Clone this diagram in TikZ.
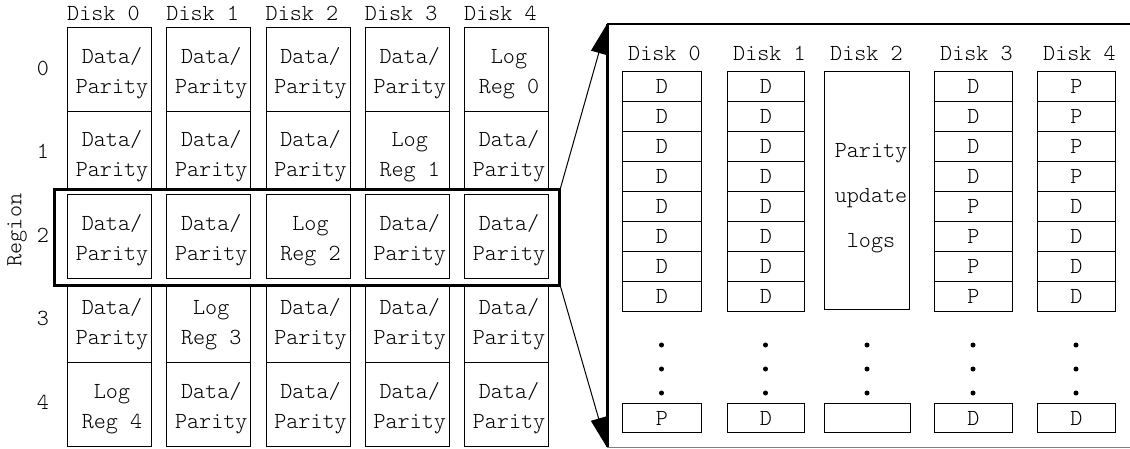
\documentclass[tikz,border=0pt]{standalone}
\usepackage{fontspec}
\newfontfamily\cour{Latin Modern Mono Light}
\usetikzlibrary{arrows.meta}
\begin{document}
\begin{tikzpicture}[x=1pt,y=-1pt,
  txt/.style={font=\cour\fontsize{23}{23}\selectfont, inner sep=0pt},
  cell/.style={draw, line width=1pt, inner sep=0pt, minimum width=84pt, anchor=north west},
  rcell/.style={draw, line width=1pt, inner sep=0pt, minimum height=30pt, anchor=north west, font=\cour\fontsize{23}{23}\selectfont},
  hlbox/.style={draw, line width=2.5pt, inner sep=0pt, anchor=north west},
  zoomarrow/.style={line width=1pt, -{Triangle[length=30pt,width=16pt]}},
  dot/.style={fill=black}]
\useasboundingbox (0,0) rectangle (1130,448);

% left grid
\foreach \r/\t/\h in {0/27/84,1/111/77,2/194/84,3/284/78,4/362/84} {
  \pgfmathtruncatemacro\lc{4-\r}
  \pgfmathsetmacro\yb{63+83.75*\r}
  \foreach \c in {0,...,4} {
    \pgfmathsetmacro\xl{67+99.25*\c}
    \node[cell, minimum height=\h pt] (L\r\c) at (\xl,\t) {};
    \ifnum\c=\lc
      \node[txt, anchor=base] (Ta\r\c) at (\xl+45,\yb) {Log};
      \node[txt, anchor=base] (Tb\r\c) at (\xl+45,\yb+30) {Reg \r};
    \else
      \node[txt, anchor=base] (Ta\r\c) at (\xl+45,\yb) {Data/};
      \node[txt, anchor=base] (Tb\r\c) at (\xl+45,\yb+30) {Parity};
    \fi
  }
  \node[txt, anchor=base] (RL\r) at (43,75+83.5*\r) {\r};
}
\foreach \c in {0,...,4} {
  \pgfmathsetmacro\xl{67+99.25*\c}
  \node[txt, anchor=base west] (LH\c) at (\xl,20) {Disk \c};
}
\node[txt, rotate=90] (region) at (17,230) {Region};

% highlight box
\node[hlbox, minimum width=505pt, minimum height=96pt] (hl) at (53,188) {};

% right panel
\node[inner sep=0pt, minimum width=540pt, minimum height=423pt, anchor=north west] (panel) at (607,24) {};
\draw[line width=2pt] (panel.north west) -- (panel.north east);
\draw[line width=1pt, gray] (panel.south west) -- (panel.south east);
\draw[line width=3pt] (panel.north west) -- (panel.south west);

\draw[zoomarrow] (hl.north east) -- (panel.north west);
\draw[zoomarrow] (hl.south east) -- (panel.south west);

% right columns
\foreach \n/\xl/\w/\lst/\last in {0/622/79/{D,D,D,D,D,D,D,D}/P, 1/727/77/{D,D,D,D,D,D,D,D}/D, 3/934/78/{D,D,D,D,P,P,P,P}/D, 4/1037/78/{P,P,P,P,D,D,D,D}/D} {
  \node[txt, anchor=base west] (RH\n) at (\xl+6,60) {Disk \n};
  \foreach \s [count=\k from 0] in \lst {
    \node[rcell, minimum width=\w pt] (R\n\k) at (\xl,71+30*\k) {\s};
  }
  \node[rcell, minimum width=\w pt, minimum height=29pt] (RB\n) at (\xl,403) {\last};
  \foreach \yy [count=\j] in {345,369,393} {
    \fill[dot] (\xl+\w/2,\yy) circle (2.5pt);
  }
}
\node[txt, anchor=base west] (RH2) at (830,60) {Disk 2};
\node[rcell, minimum width=85pt, minimum height=238pt] (Rbig) at (824,71) {};
\node[txt, anchor=base] (pu1) at (871,157) {Parity};
\node[txt, anchor=base] (pu2) at (871,202) {update};
\node[txt, anchor=base] (pu3) at (871,247) {logs};
\node[rcell, minimum width=86pt, minimum height=29pt] (RB2) at (824,403) {};
\foreach \yy in {345,369,393} {
  \fill[dot] (867,\yy) circle (2.5pt);
}
\end{tikzpicture}
\end{document}
